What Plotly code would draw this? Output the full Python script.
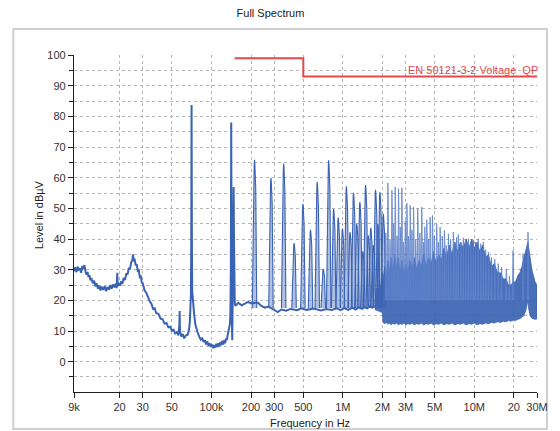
import plotly.graph_objects as go

# ---------------- data ----------------
# Low-frequency sweep, 9 kHz .. 152 kHz  (kHz, dBµV)
low_freq_khz = [9.0, 9.2, 9.4, 9.6, 9.8, 10.0, 10.2, 10.4, 10.6, 10.8, 11.0, 11.2, 11.4, 11.6, 11.8,
                12.0, 12.2, 12.5, 12.8, 13.1, 13.4, 13.7, 14.0, 14.3, 14.6, 15.0, 15.4, 15.8, 16.2,
                16.6, 17.0, 17.4, 17.8, 18.2, 18.6, 19.0, 19.2, 19.4, 19.8, 20.2, 20.6, 21.0, 21.5,
                22.0, 22.5, 23.0, 23.5, 24.0, 24.5, 25.0, 25.3, 25.6, 26.0, 26.5, 27.0, 27.5, 28.0,
                28.5, 29.0, 29.5, 30.0, 31.0, 32.0, 33.0, 34.0, 35.0, 36.0, 37.0, 38.0, 39.5, 41.0,
                42.5, 44.0, 45.5, 47.0, 48.5, 50.0, 51.5, 53.0, 54.5, 56.0, 57.0, 57.3, 57.6, 59.0,
                60.5, 62.0, 64.0, 66.0, 67.5, 68.5, 69.3, 69.8, 70.2, 70.6, 71.0, 71.4, 72.0, 73.0,
                74.0, 75.5, 77.0, 79.0, 81.0, 83.0, 85.0, 87.0, 89.0, 91.0, 93.0, 95.0, 97.0, 99.0,
                101, 103, 105, 107, 109, 111, 113, 115, 117, 119, 121, 123, 125, 127, 129, 131, 133,
                135, 137, 138.5, 139.5, 140.5, 141.4, 142.3, 143, 144, 145, 146.5, 147.5, 148.5,
                149.5, 150.5, 152]
low_level = [29.5, 30.8, 29.2, 31.0, 29.8, 30.5, 29.0, 31.2, 30.2, 31.5, 29.5, 28.4, 29.3, 27.6, 28.2,
             26.5, 27.3, 25.6, 26.4, 24.6, 25.5, 23.8, 24.8, 23.2, 24.5, 23.4, 24.6, 23.0, 24.4,
             23.5, 25.0, 23.8, 25.2, 24.2, 25.4, 24.0, 29.0, 24.6, 25.6, 24.8, 26.2, 25.4, 27.4,
             26.6, 28.8, 28.4, 30.6, 30.2, 32.4, 33.0, 35.0, 32.8, 33.6, 31.4, 31.8, 29.6, 29.8,
             27.6, 27.8, 25.8, 25.6, 23.2, 22.4, 20.6, 19.6, 18.8, 17.2, 17.4, 15.8, 15.6, 14.0,
             13.8, 12.4, 12.6, 11.2, 11.4, 10.2, 10.4, 9.2, 9.6, 8.6, 12.0, 16.5, 10.0, 8.2,
             9.0, 7.6, 8.6, 8.8, 10.5, 13.0, 18.0, 22.0, 40.0, 83.7, 40.0, 23.0, 20.5, 19.5,
             15.0, 12.0, 10.5, 9.2, 8.0, 7.2, 7.8, 6.4, 7.0, 5.6, 6.6, 5.2, 6.0, 4.8,
             5.6, 4.4, 5.4, 4.6, 5.8, 4.8, 6.0, 5.0, 6.4, 5.4, 6.8, 5.6, 7.0, 6.0, 7.6, 7.0, 8.8,
             9.8, 11.5, 12.5, 17.0, 30.0, 78.0, 30.0, 14.0, 7.0, 20.0, 40.0, 57.0, 40.0,
             25.0, 19.0, 18.2]

# Noise floor between the harmonics, 155 kHz .. 1.75 MHz  (kHz, dBµV)
base_freq_khz = [155, 160, 170, 180, 190, 200, 225, 240, 255, 270, 300, 320, 340, 370, 400, 450, 480,
                 530, 600, 680, 750, 820, 900, 960, 1030, 1100, 1180, 1250, 1320, 1400, 1460, 1530,
                 1600, 1680, 1750]
base_level = [18.6, 19.2, 18.4, 18.9, 19.5, 19.0, 19.3, 18.2, 17.6, 18.0, 16.8, 16.2, 17.0, 16.6, 17.2,
              16.8, 17.4, 16.9, 17.3, 16.7, 17.2, 16.9, 17.4, 16.8, 17.5, 16.9, 17.6, 17.0, 17.7,
              17.2, 17.8, 17.4, 18.0, 17.6, 18.2]

# Harmonic peaks, 212 kHz .. 2.03 MHz  (kHz, dBµV)
harm_freq_khz = [212.7, 283.6, 354.5, 425.4, 496.3, 567.2, 638.1, 709.0, 779.9, 850.8, 921.7, 992.6,
                 1063.5, 1134.4, 1205.3, 1276.2, 1347.1, 1418.0, 1488.9, 1559.8, 1630.7, 1701.6,
                 1772.5, 1843.4, 1914.3, 2030.0]
harm_level = [65.9, 60.0, 64.6, 38.7, 51.5, 43.0, 58.7, 30.3, 65.7, 49.9, 47.0, 43.4,
              57.2, 42.3, 55.1, 45.0, 52.1, 36.0, 57.6, 41.2, 43.7, 38.0,
              56.1, 45.0, 55.3, 48.2]

# Dense emission band, 1.75 .. 30 MHz  (MHz, lower / upper edge in dBµV)
band_freq_mhz = [1.75, 1.80, 1.85, 1.90, 1.95, 2.00, 2.02, 2.08, 2.14, 2.20, 2.26, 2.33, 2.40, 2.48,
                 2.56, 2.64, 2.72, 2.82, 2.92, 3.02, 3.12, 3.24, 3.36, 3.50, 3.64, 3.80, 3.96, 4.12,
                 4.30, 4.50, 4.70, 4.90, 5.12, 5.36, 5.60, 5.86, 6.14, 6.44, 6.76, 7.10, 7.46, 7.84,
                 8.24, 8.66, 9.10, 9.56, 10.0, 10.5, 11.0, 11.6, 12.2, 12.8, 13.5, 14.2, 15.0, 15.8,
                 16.6, 17.4, 18.2, 19.0, 19.8, 20.6, 21.4, 22.2, 23.0, 23.8, 24.6, 25.2, 25.6, 26.0,
                 26.6, 27.4, 28.2, 29.0, 30.0]
band_low = [17.0, 16.8, 16.5, 16.4, 16.2, 16.0, 12.8, 12.4, 12.8, 12.2, 12.6, 12.0, 12.5, 12.2,
            12.6, 12.0, 12.4, 12.2, 12.6, 12.0, 12.4, 12.2, 12.6, 12.0, 12.4, 12.2, 12.6, 12.0,
            12.4, 12.2, 12.6, 12.0, 12.4, 12.2, 12.6, 12.0, 12.4, 12.2, 12.6, 12.0, 12.4, 12.2,
            12.6, 12.0, 12.4, 12.2, 12.6, 12.0, 12.4, 12.2, 12.6, 12.4, 12.8, 12.6, 13.0, 12.8,
            13.2, 13.0, 13.4, 13.2, 13.6, 13.4, 13.8, 14.0, 14.4, 15.0, 16.5, 18.0, 20.0, 17.0,
            15.0, 14.2, 14.0, 13.8, 14.0]
band_high = [19.0, 24.0, 21.0, 27.0, 23.0, 29.0, 26.0, 31.0, 27.0, 33.0, 28.0, 34.0, 29.0, 35.0,
             30.0, 34.0, 29.0, 33.0, 28.0, 32.0, 29.0, 33.0, 30.0, 34.0, 30.0, 33.0, 31.0, 35.0,
             31.0, 34.0, 32.0, 36.0, 32.0, 35.0, 33.0, 37.0, 34.0, 38.0, 35.0, 39.0, 36.0, 39.0,
             37.0, 40.0, 37.0, 40.0, 37.0, 39.0, 36.0, 38.0, 34.0, 35.0, 31.0, 32.0, 29.0, 29.0,
             27.0, 27.0, 25.0, 25.0, 26.0, 26.0, 28.0, 29.0, 31.0, 34.0, 37.0, 38.0, 39.0, 37.0,
             33.0, 30.0, 28.0, 26.0, 25.0]

# Peaks rising out of the dense band  (MHz, dBµV)
dense_freq_mhz = [2.12, 2.20, 2.28, 2.36, 2.43, 2.50, 2.58, 2.65, 2.73, 2.81, 2.90, 2.98, 3.07, 3.16,
                  3.25, 3.35, 3.45, 3.58, 3.71, 3.85, 3.98, 4.10, 4.20, 4.35, 4.48, 4.61, 4.80, 4.95,
                  5.17, 5.33, 5.49, 5.70, 5.92, 6.10, 6.35, 6.60, 6.92, 7.10, 7.33, 7.55, 7.90, 8.24,
                  8.60, 9.00, 9.40, 9.82, 10.2, 10.7, 11.2, 11.7, 12.2, 12.8, 13.5, 14.3, 15.2, 16.1,
                  17.5, 18.5, 19.7, 23.5, 25.6]
dense_level = [42.0, 58.3, 40.0, 55.9, 45.0, 57.0, 41.0, 56.4, 44.0, 56.7, 39.0, 46.0, 51.7, 41.0,
               51.0, 43.0, 50.4, 40.0, 49.9, 42.0, 50.4, 39.0, 44.0, 46.3, 40.0, 47.2, 47.7, 41.0,
               45.0, 39.0, 43.9, 41.0, 42.8, 38.0, 41.7, 40.0, 42.3, 39.0, 40.6, 41.5, 39.0, 40.4,
               39.5, 40.1, 38.5, 39.8, 39.0, 40.1, 38.5, 39.0, 36.5, 35.8, 34.0, 33.5, 32.0, 30.8,
               30.3, 28.0, 36.3, 35.3, 42.3]

# Limit line EN 50121-3-2 (Hz, dBµV)
limit_freq = [150e3, 500e3, 500e3, 30e6]
limit_level = [99, 99, 93, 93]
limit_name = "EN 50121-3-2 Voltage  QP"

x_tick_vals = [9e3, 20e3, 30e3, 50e3, 100e3, 200e3, 300e3, 500e3, 1e6, 2e6, 3e6, 5e6, 10e6, 20e6, 30e6]
x_tick_text = ["9k", "20", "30", "50", "100k", "200", "300", "500", "1M", "2M", "3M", "5M", "10M", "20", "30M"]

# ---------------- styling ----------------
BLUE = "#3b63b3"
BLUE_LIGHT = "rgba(59,99,179,0.40)"
RED = "#e5484d"
GRID = "#b5b5b5"
FONT = "Liberation Sans, Arial, sans-serif"


def tents(freqs, levels, foot, half_dec):
    xs, ys = [], []
    k = 10 ** half_dec
    for f, v in zip(freqs, levels):
        xs += [f / k, f / k ** 0.55, f / k ** 0.15, f, f * k ** 0.15, f * k ** 0.55, f * k, None]
        ys += [foot, foot + 0.8 * (v - foot), foot + 0.97 * (v - foot), v,
               foot + 0.97 * (v - foot), foot + 0.8 * (v - foot), foot, None]
    return xs, ys


fig = go.Figure()

# dense band (filled between lower and upper edge)
bx = [f * 1e6 for f in band_freq_mhz]
fig.add_trace(go.Scatter(
    x=bx + bx[::-1], y=band_high + band_low[::-1],
    fill="toself", fillcolor="rgba(59,99,179,0.92)",
    line=dict(color=BLUE, width=0.8), mode="lines", hoverinfo="skip", showlegend=False))

# low-frequency sweep + noise floor
main_x = [f * 1e3 for f in low_freq_khz] + [f * 1e3 for f in base_freq_khz]
main_y = low_level + base_level
fig.add_trace(go.Scatter(x=main_x, y=main_y, mode="lines",
                         line=dict(color=BLUE, width=2.0), showlegend=False))

# harmonics
hx, hy = tents([f * 1e3 for f in harm_freq_khz], harm_level, 17.5, 0.017)
fig.add_trace(go.Scatter(x=hx, y=hy, mode="lines", fill="toself", fillcolor=BLUE_LIGHT,
                         line=dict(color=BLUE, width=1.1), showlegend=False))

# peaks in the dense band
dx, dy = tents([f * 1e6 for f in dense_freq_mhz], dense_level, 20.0, 0.006)
fig.add_trace(go.Scatter(x=dx, y=dy, mode="lines", fill="toself", fillcolor="rgba(120,150,210,0.55)",
                         line=dict(color="rgba(90,125,200,0.75)", width=1.0), showlegend=False))

# limit line
fig.add_trace(go.Scatter(x=limit_freq, y=limit_level, mode="lines",
                         line=dict(color=RED, width=2), showlegend=False))

fig.add_annotation(x=7.4771, y=93, xref="x", yref="y", text=limit_name, showarrow=False,
                   xanchor="right", yanchor="bottom", xshift=3, yshift=-1,
                   font=dict(family=FONT, size=11, color=RED))

# axis titles
fig.add_annotation(x=-0.0753, y=0.525, xref="paper", yref="paper", text="Level in dBµV",
                   textangle=-90, showarrow=False, xanchor="center", yanchor="middle",
                   font=dict(family=FONT, size=11, color="#222222"))
fig.add_annotation(x=0.51, y=-0.092, xref="paper", yref="paper", text="Frequency in Hz",
                   showarrow=False, xanchor="center", yanchor="middle",
                   font=dict(family=FONT, size=11, color="#222222"))

# outer frame
fig.add_shape(type="rect", xref="paper", yref="paper", x0=-0.1312, x1=1.0215, y0=-0.1098, y1=1.0772,
              line=dict(color="#cfcfcf", width=2), layer="below")

fig.update_layout(
    width=560, height=431,
    margin=dict(l=74, r=21, t=55, b=39),
    paper_bgcolor="white", plot_bgcolor="white",
    font=dict(family=FONT, size=11, color="#333333"),
    title=dict(text="Full Spectrum", x=0.483, y=0.969, xref="container", yref="container",
               xanchor="center", yanchor="middle", font=dict(family=FONT, size=11, color="#222222")),
    showlegend=False,
)

fig.update_xaxes(
    type="log", range=[3.9542, 7.4771],
    tickmode="array", tickvals=x_tick_vals, ticktext=x_tick_text,
    showgrid=True, gridcolor=GRID, griddash="dot", gridwidth=1,
    showline=True, linecolor="#222222", linewidth=1.2,
    ticks="outside", ticklen=5, tickcolor="#222222",
    zeroline=False,
)
fig.update_yaxes(
    range=[-9.9, 100.05], tickmode="linear", tick0=0, dtick=10,
    showgrid=True, gridcolor=GRID, griddash="dot", gridwidth=1,
    showline=True, linecolor="#222222", linewidth=1.2,
    ticks="outside", ticklen=5, tickcolor="#222222",
    minor=dict(tick0=0, dtick=5, ticks="outside", ticklen=4, tickcolor="#222222",
               showgrid=True, gridcolor=GRID, griddash="dot", gridwidth=1),
    zeroline=False,
)

fig.write_html("out.html")
